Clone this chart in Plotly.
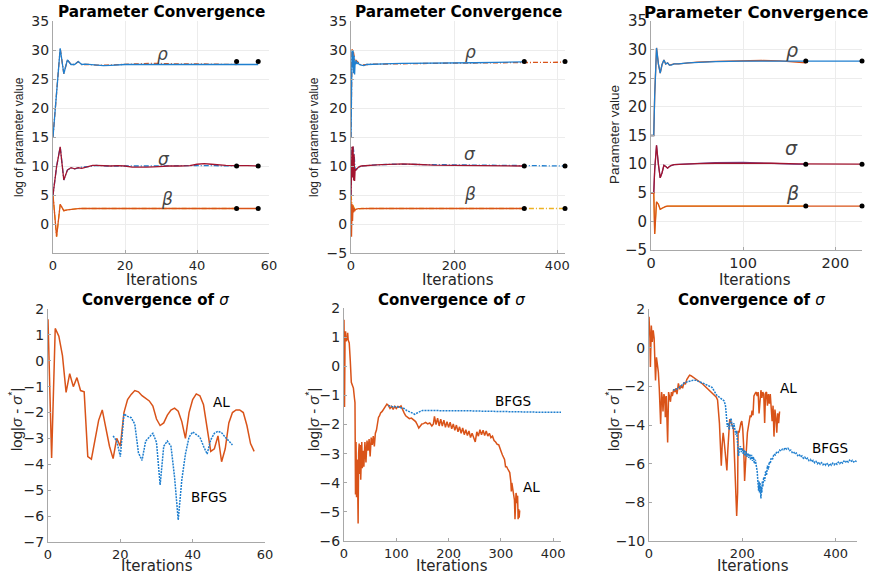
import plotly.graph_objects as go

W, H = 873, 575

# ---------------- data ----------------
# Panel 1 (top-left): AL solid to 57, BFGS dashed to 51
p1_al_x = [0,1,2,3,4,5,6,7,8,9,10,11,12,14,16,18,20,22,24,26,28,30,32,35,38,40,42,44,46,48,50,52,54,57]
p1_al_rho = [15,23,30.3,25.9,28.3,27.5,27.5,28.0,27.5,27.55,27.5,27.4,27.35,27.3,27.35,27.45,27.5,27.5,27.5,27.5,27.55,27.6,27.6,27.6,27.6,27.6,27.55,27.55,27.55,27.5,27.5,27.5,27.5,27.5]
p1_al_sig = [5,9.9,13.3,7.6,9.3,9.7,9.5,9.7,9.6,9.8,9.9,10.1,10.1,10.0,10.0,10.05,10.0,9.8,9.75,9.8,9.85,9.95,10.0,10.0,10.05,10.3,10.4,10.3,10.15,10.1,10.05,10.1,10.05,10.0]
p1_al_bet = [5,-2.2,3.4,2.3,2.45,2.55,2.6,2.65,2.67,2.67,2.67,2.67,2.67,2.67,2.67,2.67,2.67,2.67,2.67,2.67,2.67,2.67,2.67,2.67,2.67,2.67,2.67,2.67,2.67,2.67,2.67,2.67,2.67,2.67]
p1_bf_x = [0,1,2,3,4,5,6,7,8,10,12,15,18,20,22,25,28,30,35,40,45,51]
p1_bf_rho = [15,23,30.3,25.9,28.3,27.5,27.5,28.0,27.5,27.5,27.4,27.4,27.5,27.55,27.6,27.65,27.7,27.65,27.6,27.6,27.55,27.5]
p1_bf_sig = [5,9.9,13.3,7.6,9.3,9.7,9.5,9.7,9.8,9.9,10.1,10.0,10.0,9.95,9.9,9.9,9.95,10.0,10.05,10.1,10.05,10.0]
p1_bf_bet = [5,-2.2,3.4,2.3,2.45,2.55,2.65,2.67,2.67,2.67,2.67,2.67,2.67,2.67,2.67,2.67,2.67,2.67,2.67,2.67,2.67,2.67]
p1_ends = [51, 57]

# Panel 2 (top-middle): AL solid to 336, BFGS dashed to 415
p2_al_x = [0,1,2,3,4,5,6,7,8,9,10,12,14,16,20,25,30,40,50,60,80,100,120,140,160,200,240,280,320,336]
p2_al_rho = [15,22,30.0,27,30,26,29,25.8,28,27.5,28.2,27.6,27.8,27.5,27.4,27.3,27.5,27.55,27.6,27.6,27.65,27.7,27.7,27.72,27.75,27.8,27.8,27.85,27.9,27.95]
p2_al_sig = [5,9,13.3,8,13.4,7.5,12,7.4,9.5,9.2,9.4,9.6,9.8,9.9,10.0,10.05,10.1,10.15,10.2,10.25,10.35,10.35,10.3,10.2,10.15,10.1,10.05,10.05,10.0,10.0]
p2_al_bet = [5,-2.2,3.5,0.5,3.2,2.0,2.8,2.2,2.4,2.5,2.55,2.6,2.65,2.65,2.67,2.67,2.67,2.67,2.67,2.67,2.67,2.67,2.67,2.67,2.67,2.67,2.67,2.67,2.67,2.67]
p2_bf_x = [0,2,4,6,8,10,20,40,80,120,160,200,250,300,336,380,415]
p2_bf_rho = [15,30.0,30,29,28,28.2,27.4,27.55,27.65,27.65,27.7,27.72,27.8,27.85,27.9,27.9,27.9]
p2_bf_sig = [5,13.3,13.4,12,9.5,9.4,10.0,10.15,10.3,10.3,10.25,10.2,10.15,10.1,10.05,10.02,10.0]
p2_bf_bet = [5,3.5,3.2,2.8,2.4,2.55,2.67,2.67,2.67,2.67,2.67,2.67,2.67,2.67,2.67,2.67,2.67]
p2_ends = [336, 415]

# Panel 3 (top-right): long run to 229, short run to 168
p3_a_x = [0,3,4,6,8,10,12,14,16,18,20,22,25,30,40,50,70,100,130,160,190,229]
p3_a_rho = [15,15,22,30.3,27.5,25.9,27.4,28.2,27.5,27.7,27.3,27.3,27.5,27.5,27.7,27.8,27.9,28.0,28.0,28.0,28.0,28.0]
p3_a_sig = [5,5,9,13.3,10,7.6,8.5,9.8,9.6,9.3,9.6,9.8,9.9,9.95,10.0,10.1,10.15,10.2,10.15,10.05,10.0,10.0]
p3_a_bet = [5,5,-2.2,3.4,3.0,2.1,2.3,2.5,2.6,2.65,2.67,2.67,2.67,2.67,2.67,2.67,2.67,2.67,2.67,2.67,2.67,2.67]
p3_b_x = [0,3,4,6,8,10,12,14,16,18,20,25,30,40,50,70,100,120,140,155,168]
p3_b_rho = [15,15,22,30.3,27.5,25.9,27.4,28.2,27.5,27.7,27.3,27.5,27.5,27.7,27.8,27.95,28.1,28.1,28.05,27.85,27.7]
p3_b_sig = [5,5,9,13.3,10,7.6,8.5,9.8,9.6,9.3,9.6,9.9,9.95,10.05,10.15,10.25,10.3,10.25,10.1,10.0,9.95]
p3_b_bet = [5,5,-2.2,3.4,3.0,2.1,2.3,2.5,2.6,2.65,2.67,2.67,2.67,2.67,2.67,2.67,2.67,2.67,2.67,2.67,2.67]
p3_ends = [168, 229]

true_vals = [28, 10, 8/3]

# Panel 4 (bottom-left)
p4_al_x = list(range(0, 58))
p4_al_y = [1.6,-3.75,1.25,0.95,0.2,-1.22,-0.5,-1.0,-0.65,-1.15,-1.2,-3.7,-3.8,-3.0,-2.3,-1.9,-2.6,-3.3,-3.78,-3.0,
           -3.3,-2.0,-1.5,-1.3,-1.15,-1.2,-1.35,-1.45,-1.55,-1.75,-2.25,-2.5,-2.4,-2.1,-1.9,-1.83,-1.95,-2.35,-3.0,-2.0,
           -1.5,-1.28,-1.35,-1.7,-2.6,-3.5,-3.4,-2.9,-3.9,-3.4,-2.4,-2.0,-1.9,-1.9,-2.0,-2.5,-3.2,-3.5]
p4_bf_x = list(range(18, 52))
p4_bf_y = [-2.9,-3.1,-3.7,-2.05,-2.15,-2.2,-2.45,-3.55,-3.85,-3.1,-2.95,-2.8,-3.15,-4.8,-3.3,-3.1,-3.3,-4.5,-6.15,-4.6,
           -3.6,-2.95,-2.75,-2.85,-2.95,-3.3,-3.6,-3.05,-2.8,-2.72,-2.78,-2.95,-3.1,-3.25]

# Panel 5 (bottom-middle)
p5_al_x = [0,1,2,3,4,5,6,7,8,9,10,12,14,16,18,20,21,
           22,23,24,25,26,27,28,29,30,31,32,34,35,37,38,40,42,44,46,48,50,52,54,56,58,60,62,
           64,66,68,70,73,76,79,82,85,88,91,94,97,100,103,106,109,112,115,118,121,125,129,133,137,140,143,146,149,152,156,160,164,168,171,173,
           176,179,182,185,188,191,194,197,200,203,206,209,212,215,218,221,224,227,230,233,236,239,242,245,248,251,254,257,260,263,266,269,272,275,278,281,284,287,290,293,296,299,
           301,303,305,307,309,311,313,315,317,319,320,321,322,324,326,327,328,329,330,331,332,333,334,335,336]
p5_al_y = [1.6,-1.4,1.0,1.2,0.85,0.95,0.9,1.15,0.9,0.85,0.8,0.2,-0.55,-0.65,-0.75,-1.1,-1.25,
           -4.4,-2.6,-4.5,-3.2,-3.8,-5.4,-3.0,-2.65,-3.7,-2.7,-3.9,-2.6,-3.5,-2.9,-3.45,-2.6,-3.3,-2.55,-2.9,-2.5,-3.1,-2.45,-2.7,-2.4,-2.75,-2.3,-2.2,
           -2.0,-1.75,-1.7,-1.6,-1.55,-1.45,-1.38,-1.3,-1.35,-1.45,-1.38,-1.48,-1.38,-1.45,-1.38,-1.4,-1.36,-1.5,-1.6,-1.7,-1.75,-1.8,-1.78,-1.85,-1.9,-2.0,-2.12,-2.05,-1.98,-1.97,-1.93,-1.98,-1.95,-2.05,-1.98,-1.72,
           -2.0,-1.78,-2.05,-1.82,-2.05,-1.85,-2.1,-1.9,-2.1,-1.92,-2.15,-1.98,-2.2,-2.02,-2.25,-2.08,-2.3,-2.12,-2.35,-2.18,-2.38,-2.22,-2.45,-2.3,-2.45,-2.6,-2.25,-2.4,-2.18,-2.35,-2.2,-2.38,-2.22,-2.4,-2.3,-2.45,-2.4,-2.55,-2.6,-2.68,-2.7,-2.82,
           -2.95,-3.05,-3.15,-3.2,-3.45,-3.45,-3.52,-3.6,-3.65,-3.95,-4.3,-4.0,-4.1,-4.3,-4.6,-5.25,-4.6,-4.35,-4.45,-4.7,-4.45,-5.25,-4.9,-5.2,-4.95]
p5_bf_x = [85,90,95,100,105,110,115,120,125,130,135,138,142,146,150,160,170,180,190,200,220,240,260,280,300,320,340,360,380,400,415]
p5_bf_y = [-1.35,-1.38,-1.4,-1.38,-1.4,-1.42,-1.45,-1.52,-1.55,-1.6,-1.65,-1.63,-1.58,-1.55,-1.52,-1.52,-1.53,-1.52,-1.51,-1.51,-1.52,-1.53,-1.54,-1.55,-1.55,-1.56,-1.57,-1.57,-1.58,-1.58,-1.58]

# Panel 6 (bottom-right)
p6_al_x = [0,2,3,5,7,9,11,12,14,16,18,20,22,24,25,27,29,30,32,34,35,37,38,40,42,44,46,48,50,53,56,58,60,63,66,69,72,75,78,81,84,87,90,93,97,101,105,110,115,120,125,130,135,140,144,147,149,151,153,155,157,159,161,163,165,167,169,171,173,175,177,179,181,183,186,188,190,191,193,195,197,199,201,203,205,207,209,211,213,215,217,219,221,223,225,228,230,232,234,236,238,240,242,244,246,248,250,252,254,256,258,260,262,264,266,268,270,272,274,276,278,280]
p6_al_y = [1.6,0.5,-1.0,1.15,0.3,0.9,0.5,-0.1,-1.7,-0.5,-0.8,-1.25,-2.1,-3.0,-3.95,-2.3,-2.7,-3.3,-2.4,-2.6,-3.6,-2.5,-3.2,-4.9,-2.3,-2.6,-2.8,-2.3,-2.5,-2.15,-2.3,-2.1,-2.4,-1.85,-2.15,-1.95,-2.1,-1.8,-1.9,-1.65,-1.55,-1.42,-1.45,-1.5,-1.55,-1.62,-1.7,-1.78,-1.88,-2.0,-2.12,-2.25,-2.35,-2.5,-2.55,-2.7,-3.2,-3.9,-5.0,-6.1,-5.0,-4.4,-4.8,-5.25,-5.8,-6.35,-5.3,-4.3,-3.7,-3.8,-4.0,-4.05,-4.2,-5.6,-7.0,-8.7,-7.5,-4.3,-4.4,-4.0,-3.9,-3.8,-4.2,-5.1,-6.9,-6.0,-4.7,-4.4,-4.1,-3.7,-3.5,-3.6,-3.25,-3.5,-2.5,-2.35,-2.3,-2.5,-2.3,-3.4,-2.4,-2.2,-2.6,-2.3,-2.4,-3.9,-2.35,-2.3,-3.0,-2.4,-2.9,-2.4,-3.1,-3.8,-3.0,-4.6,-3.2,-3.6,-4.4,-3.4,-3.9,-3.3]
p6_bf_x = [52,58,63,68,74,80,88,95,100,105,110,117,124,130,135,140,145,150,156,161,164,166,168,170,172,174,176,178,180,182,184,186,188,190,192,194,196,198,200,202,204,206,208,210,212,214,216,218,220,222,224,226,228,230,232,234,235,236,237,238,239,240,241,242,243,244,246,248,250,252,254,256,258,260,262,265,268,271,274,277,280,283,286,289,292,295,298,301,304,307,310,313,316,319,322,325,328,331,334,337,340,343,346,349,352,355,358,361,364,367,370,373,376,379,382,385,388,391,394,397,400,403,406,409,412,415,418,421,424,427,430,433,436,439,442,445]
p6_bf_y = [-2.2,-2.15,-2.1,-2.0,-1.85,-1.78,-1.72,-1.68,-1.68,-1.72,-1.76,-1.85,-1.93,-2.0,-2.05,-2.25,-2.45,-2.55,-2.67,-2.75,-3.0,-3.4,-4.1,-3.9,-4.25,-3.8,-3.65,-4.0,-4.2,-3.9,-4.3,-4.5,-4.3,-4.8,-5.6,-5.2,-5.1,-5.4,-5.2,-5.5,-5.3,-5.6,-5.35,-5.65,-5.45,-5.7,-5.5,-5.8,-5.55,-5.85,-5.65,-6.0,-5.8,-6.1,-6.4,-7.1,-7.4,-6.9,-7.5,-7.0,-7.6,-7.8,-7.2,-7.5,-6.9,-7.2,-6.7,-6.9,-6.4,-6.6,-6.1,-6.3,-5.9,-6.0,-5.7,-5.75,-5.5,-5.55,-5.38,-5.42,-5.3,-5.35,-5.25,-5.28,-5.17,-5.25,-5.2,-5.32,-5.3,-5.42,-5.38,-5.5,-5.45,-5.58,-5.52,-5.65,-5.6,-5.72,-5.66,-5.78,-5.72,-5.84,-5.78,-5.9,-5.83,-5.95,-5.88,-6.0,-5.92,-6.03,-5.95,-6.06,-5.98,-6.08,-6.0,-6.1,-6.0,-6.08,-5.98,-6.06,-5.96,-6.03,-5.92,-6.0,-5.9,-5.97,-5.87,-5.94,-5.84,-5.92,-5.82,-5.9,-5.83,-5.91,-5.84,-5.9]

# tick labels
p1_xticks = [0, 20, 40, 60]
p2_xticks = [0, 200, 400]
p3_xticks = [0, 100, 200]
p1_yticks = [0, 5, 10, 15, 20, 25, 30, 35]
p23_yticks = [-5, 0, 5, 10, 15, 20, 25, 30, 35]
p4_yticks = [-7, -6, -5, -4, -3, -2, -1, 0, 1, 2]
p5_xticks = [0, 100, 200, 300, 400]
p5_yticks = [-6, -5, -4, -3, -2, -1, 0, 1, 2]
p6_xticks = [0, 200, 400]
p6_yticks = [-10, -8, -6, -4, -2, 0, 2]

# ---------------- style ----------------
BLUE = "#1f7fcf"
ORANGE = "#D95319"
YELLOW = "#EDB120"
RED = "#A2142F"
FONT = "DejaVu Sans"
TICKC = "#262626"
AXC = "#a8a8a8"

fig = go.Figure()

def line(ax, x, y, color, dash="solid", width=1.3):
    xa = "x" if ax == 1 else f"x{ax}"
    ya = "y" if ax == 1 else f"y{ax}"
    fig.add_trace(go.Scatter(x=x, y=y, mode="lines", xaxis=xa, yaxis=ya,
                             line=dict(color=color, width=width, dash=dash),
                             showlegend=False, hoverinfo="skip"))

def dots(ax, xs):
    xa = "x" if ax == 1 else f"x{ax}"
    ya = "y" if ax == 1 else f"y{ax}"
    px, py = [], []
    for xv in xs:
        for tv in true_vals:
            px.append(xv); py.append(tv)
    fig.add_trace(go.Scatter(x=px, y=py, mode="markers", xaxis=xa, yaxis=ya,
                             marker=dict(color="black", size=5), cliponaxis=False,
                             showlegend=False, hoverinfo="skip"))

DASH = "5px,2px,1px,2px"
# Panel 1
line(1, p1_bf_x, p1_bf_rho, ORANGE, DASH)
line(1, p1_bf_x, p1_bf_sig, BLUE, DASH)
line(1, p1_bf_x, p1_bf_bet, YELLOW, DASH)
line(1, p1_al_x, p1_al_rho, BLUE)
line(1, p1_al_x, p1_al_sig, RED)
line(1, p1_al_x, p1_al_bet, ORANGE)
dots(1, p1_ends)
# Panel 2
line(2, p2_bf_x, p2_bf_rho, ORANGE, DASH)
line(2, p2_bf_x, p2_bf_sig, BLUE, DASH)
line(2, p2_bf_x, p2_bf_bet, YELLOW, DASH)
line(2, p2_al_x, p2_al_rho, BLUE)
line(2, p2_al_x, p2_al_sig, RED)
line(2, p2_al_x, p2_al_bet, ORANGE)
dots(2, p2_ends)
# Panel 3 (short run underneath, long run on top)
line(3, p3_b_x, p3_b_rho, ORANGE)
line(3, p3_b_x, p3_b_sig, "#6a4fa0", width=1.2)
line(3, p3_b_x, p3_b_bet, YELLOW, width=1.2)
line(3, p3_a_x, p3_a_rho, BLUE)
line(3, p3_a_x, p3_a_sig, RED)
line(3, p3_a_x, p3_a_bet, ORANGE)
dots(3, p3_ends)
# Bottom panels
BDOT = "2px,1px"
line(4, p4_al_x, p4_al_y, ORANGE, width=1.5)
line(4, p4_bf_x, p4_bf_y, BLUE, BDOT, width=1.5)
line(5, p5_al_x, p5_al_y, ORANGE, width=1.5)
line(5, p5_bf_x, p5_bf_y, BLUE, BDOT, width=1.5)
line(6, p6_al_x, p6_al_y, ORANGE, width=1.5)
line(6, p6_bf_x, p6_bf_y, BLUE, BDOT, width=1.5)

def px_x(p):
    return p / W

def px_y(p):
    return 1 - p / H

def xax(l, r, rng, ticks, anchor, grid, fs=13):
    return dict(domain=[px_x(l), px_x(r)], range=rng, tickvals=ticks, anchor=anchor,
                automargin=False, showline=True, linecolor=AXC, linewidth=1,
                ticks="inside", ticklen=3, tickcolor=AXC,
                showgrid=grid, gridcolor="#ececec", gridwidth=1,
                zeroline=False, tickfont=dict(family=FONT, size=fs, color=TICKC))

def yax(t, b, rng, ticks, anchor, grid, fs=14):
    return dict(domain=[px_y(b), px_y(t)], range=rng, tickvals=ticks, anchor=anchor,
                automargin=False, showline=True, linecolor=AXC, linewidth=1,
                ticks="inside", ticklen=3, tickcolor=AXC,
                showgrid=grid, gridcolor="#ececec", gridwidth=1,
                zeroline=False, tickfont=dict(family=FONT, size=fs, color=TICKC))

layout = dict(width=W, height=H, autosize=False, margin=dict(l=0, r=0, t=0, b=0, pad=0),
              paper_bgcolor="white", plot_bgcolor="white", showlegend=False)
layout["xaxis"] = xax(53, 269, [0, 60], p1_xticks, "y", True)
layout["yaxis"] = yax(21, 253, [-5, 35], p1_yticks, "x", True)
layout["xaxis2"] = xax(351, 565, [0, 415], p2_xticks, "y2", True)
layout["yaxis2"] = yax(21, 253, [-5, 35], p23_yticks, "x2", True)
layout["xaxis3"] = xax(651, 862, [0, 229], p3_xticks, "y3", True, 14.5)
layout["yaxis3"] = yax(21, 250, [-5, 35], p23_yticks, "x3", True, 15)
layout["xaxis4"] = xax(48, 265, [0, 60], p1_xticks, "y4", False)
layout["yaxis4"] = yax(309, 542, [-7, 2], p4_yticks, "x4", False)
layout["xaxis5"] = xax(344, 561, [0, 415], p5_xticks, "y5", False)
layout["yaxis5"] = yax(308, 541, [-6, 2], p5_yticks, "x5", False)
layout["xaxis6"] = xax(649, 857, [0, 446], p6_xticks, "y6", False)
layout["yaxis6"] = yax(309, 541, [-10, 2], p6_yticks, "x6", False)

ann = []
def ptext(text, x, y, size, angle=0, family=FONT, color="black"):
    ann.append(dict(text=text, x=px_x(x), y=px_y(y), xref="paper", yref="paper",
                    showarrow=False, textangle=angle, xanchor="center", yanchor="middle",
                    font=dict(family=family, size=size, color=color)))

def dtext(ax, text, x, y, size, family=FONT, color="black"):
    xr = "x" if ax == 1 else f"x{ax}"
    yr = "y" if ax == 1 else f"y{ax}"
    ann.append(dict(text=text, x=x, y=y, xref=xr, yref=yr, showarrow=False,
                    xanchor="center", yanchor="middle",
                    font=dict(family=family, size=size, color=color)))

TT = "<b>Parameter Convergence</b>"
ptext(TT, 161, 12.5, 15.25)
ptext(TT, 458, 12.5, 15.25)
ptext(TT, 756, 12.5, 16.5)
BT = "<b>Convergence of </b><i>σ</i>"
ptext(BT, 155, 300, 15)
ptext(BT, 451, 300, 15)
ptext(BT, 751, 300, 15)
for cx in (162, 458, 755):
    ptext("Iterations", cx, 279.5, 15, color=TICKC)
for cx in (157, 452, 753):
    ptext("Iterations", cx, 566, 15, color=TICKC)
ptext("log of parameter value", 19, 137, 12, angle=-90, family="Liberation Sans", color=TICKC)
ptext("log of parameter value", 314, 137, 12, angle=-90, family="Liberation Sans", color=TICKC)
ptext("Parameter value", 614, 135, 13.5, angle=-90, family="Liberation Sans", color=TICKC)
SL = "log|<i>σ</i> - <i>σ</i><sup>*</sup>|"
ptext(SL, 15, 420, 15, angle=-90, family="Liberation Sans", color=TICKC)
ptext(SL, 312, 420, 15, angle=-90, family="Liberation Sans", color=TICKC)
ptext(SL, 612, 420, 15, angle=-90, family="Liberation Sans", color=TICKC)

GC = "#444444"
dtext(1, "<i>ρ</i>", 30.5, 29.3, 17, color=GC)
dtext(1, "<i>σ</i>", 30.8, 11.2, 17, color=GC)
dtext(1, "<i>β</i>", 31.6, 4.3, 17, color=GC)
dtext(2, "<i>ρ</i>", 231, 29.7, 17, color=GC)
dtext(2, "<i>σ</i>", 231, 12.0, 17, color=GC)
dtext(2, "<i>β</i>", 231, 5.1, 17, color=GC)
dtext(3, "<i>ρ</i>", 153, 30.0, 19, color=GC)
dtext(3, "<i>σ</i>", 153, 12.8, 19, color=GC)
dtext(3, "<i>β</i>", 154, 5.0, 19, color=GC)

dtext(4, "AL", 48, -1.6, 13.5)
dtext(4, "BFGS", 44.5, -5.25, 13.5)
dtext(5, "BFGS", 323, -1.2, 13.5)
dtext(5, "AL", 359, -4.15, 13.5)
dtext(6, "AL", 299, -2.1, 13.5)
dtext(6, "BFGS", 389, -5.2, 13.5)

layout["annotations"] = ann
fig.update_layout(**layout)
fig.write_html("out.html", config={"displayModeBar": False},
               post_script="document.body.style.margin='0px';document.body.style.overflow='hidden';")
